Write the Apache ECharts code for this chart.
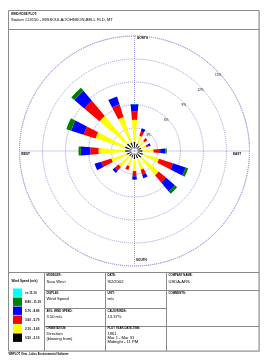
<!DOCTYPE html>
<html>
<head>
<meta charset="utf-8">
<title>Wind Rose Plot</title>
<script src="https://cdn.jsdelivr.net/npm/echarts/dist/echarts.min.js"></script>
<style>
  html, body { margin: 0; padding: 0; background: #fff; }
  #chart-rose { width: 266px; height: 364px; }
</style>
</head>
<body>
<div id="chart-rose"></div>
<script>
// Data (percent frequency per direction, by wind speed class)
const directions = ['N', 'NNE', 'NE', 'ENE', 'E', 'ESE', 'SE', 'SSE', 'S', 'SSW', 'SW', 'WSW', 'W', 'WNW', 'NW', 'NNW'];
const speedClasses = ['0.50 - 2.10', '2.10 - 3.60', '3.60 - 5.70', '5.70 - 8.80', '8.80 - 11.10', '>= 11.10'];
const speed05to21 = [0.80, 0.65, 0.52, 0.50, 0.65, 0.78, 0.78, 0.65, 0.65, 0.52, 0.52, 0.65, 0.82, 0.91, 0.91, 0.78];
const speed21to36 = [2.87, 1.05, 0.85, 0.75, 1.44, 2.19, 2.97, 1.54, 1.57, 1.18, 1.83, 2.13, 3.48, 4.04, 4.69, 3.48];
const speed36to57 = [1.08, 0.58, 0.46, 0.31, 0.87, 1.91, 1.23, 0.68, 0.69, 0.52, 0.65, 1.39, 1.08, 1.63, 2.60, 1.74];
const speed57to88 = [0.99, 0.43, 0.00, 0.26, 0.69, 1.73, 1.54, 0.48, 0.44, 0.00, 0.36, 0.91, 1.23, 1.71, 1.70, 1.08];
const speed88to111 = [0.00, 0.00, 0.00, 0.00, 0.17, 0.35, 0.38, 0.00, 0.00, 0.00, 0.00, 0.00, 0.30, 0.65, 0.52, 0.00];
const speedOver111 = [0, 0, 0, 0, 0, 0, 0, 0, 0, 0, 0, 0, 0, 0, 0, 0];
const ringMax = 15;
const ringStep = 3;

const classData = [speed05to21, speed21to36, speed36to57, speed57to88, speed88to111, speedOver111];
const classColors = ['#000000', '#ffff00', '#ff0000', '#0000ff', '#008000', '#00ffff'];

const FONT = '"Liberation Sans", Arial, sans-serif';
const GRID = '#9b9bdc';
const CENTER = [134.5, 151];

function txt(x, y, text, size, bold) {
    return {
        type: 'text', x: x, y: y, silent: true,
        style: {
            text: text, fontSize: size, fontFamily: FONT,
            fontWeight: bold ? 'bold' : 'normal',
            fill: '#000', verticalAlign: 'middle'
        }
    };
}
function ln(x1, y1, x2, y2, color) {
    return {
        type: 'line', silent: true,
        shape: {x1: x1, y1: y1, x2: x2, y2: y2},
        style: {stroke: color || '#8a8a8a', lineWidth: 1}
    };
}

const rose = echarts.init(document.getElementById('chart-rose'));

const series = speedClasses.map(function(name, i) {
    return {
        name: name,
        type: 'bar',
        coordinateSystem: 'polar',
        polarIndex: 0,
        stack: 'speed',
        barWidth: '42%',
        itemStyle: {color: classColors[i]},
        data: classData[i]
    };
});

const graphics = [
    // frame
    {type: 'rect', silent: true, shape: {x: 8.5, y: 10.5, width: 250.5, height: 340.5},
     style: {fill: 'none', stroke: '#8a8a8a', lineWidth: 1}},
    ln(259.5, 11, 259.5, 351.5, '#b0b0b0'),
    ln(9, 351.5, 259.5, 351.5, '#b0b0b0'),
    ln(8.5, 29.5, 259, 29.5),
    txt(11, 14.5, 'WIND ROSE PLOT:', 2.9, true),
    txt(11, 19.5, 'Station #24150 - MISSOULA/JOHNSON-BELL FLD, MT', 4.1),

    // compass labels
    txt(137, 38.5, 'NORTH', 3.1, true),
    txt(21, 154.5, 'WEST', 3.1, true),
    txt(233, 154.5, 'EAST', 3.1, true),
    txt(136, 260.5, 'SOUTH', 3.1, true),

    // table
    ln(8.5, 272.5, 259, 272.5),
    ln(44.5, 272.5, 44.5, 351),
    ln(105.5, 272.5, 105.5, 351),
    ln(166.5, 272.5, 166.5, 351),
    ln(44.5, 290.5, 259, 290.5),
    ln(44.5, 308.5, 166.5, 308.5),
    ln(44.5, 326.5, 259, 326.5),

    txt(11.5, 281.5, 'Wind Speed (m/s)', 3.1, true),

    txt(46.5, 275.5, 'MODELER:', 2.8, true),
    txt(46.5, 282, 'Sara West', 4.1),
    txt(107.5, 275.5, 'DATE:', 2.8, true),
    txt(107.5, 282, '9/2/2002', 4.1),
    txt(168.5, 275.5, 'COMPANY NAME:', 2.8, true),
    txt(168.5, 282, 'USDA-ARS', 4.1),

    txt(46.5, 293, 'DISPLAY:', 2.8, true),
    txt(46.5, 299, 'Wind Speed', 4.1),
    txt(107.5, 293, 'UNIT:', 2.8, true),
    txt(107.5, 299, 'm/s', 4.1),
    txt(168.5, 293, 'COMMENTS:', 2.8, true),

    txt(46.5, 311, 'AVG. WIND SPEED:', 2.8, true),
    txt(46.5, 317, '3.50 m/s', 4.1),
    txt(107.5, 311, 'CALM WINDS:', 2.8, true),
    txt(107.5, 317, '13.37%', 4.1),

    txt(46.5, 328.5, 'ORIENTATION:', 2.8, true),
    txt(46.5, 333.5, 'Direction', 4.1),
    txt(46.5, 338.5, '(blowing from)', 4.1),
    txt(107.5, 328.5, 'PLOT YEAR-DATE-TIME:', 2.8, true),
    txt(107.5, 333.5, '1961', 4.1),
    txt(107.5, 337.8, 'Mar 1 - Mar 31', 4.1),
    txt(107.5, 342.1, 'Midnight - 11 PM', 4.1),

    txt(8.5, 354, 'WRPLOT View - Lakes Environmental Software', 2.7, true)
];

const option = {
    animation: false,
    backgroundColor: '#fff',
    polar: [
        {center: CENTER, radius: [3, 118]},
        {center: CENTER, radius: 115},
        {center: CENTER, radius: 115}
    ],
    angleAxis: [{
        polarIndex: 0,
        type: 'category',
        data: directions,
        startAngle: 90 + 360 / directions.length / 2,
        clockwise: true,
        show: false
    }, {
        polarIndex: 1,
        type: 'value',
        min: 0,
        max: 360,
        interval: 90,
        startAngle: 90,
        clockwise: true,
        axisLine: {show: true, lineStyle: {color: GRID, type: 'dotted', width: 1}},
        axisTick: {show: false},
        axisLabel: {show: false},
        splitLine: {show: true, lineStyle: {color: GRID, type: 'dotted', width: 1}}
    }, {
        polarIndex: 2,
        type: 'value',
        min: 0,
        max: 360,
        startAngle: 40,
        show: false
    }],
    radiusAxis: [{
        polarIndex: 0,
        type: 'value',
        min: 0,
        max: ringMax,
        show: false
    }, {
        polarIndex: 1,
        type: 'value',
        min: 0,
        max: ringMax,
        interval: ringStep,
        axisLine: {show: false},
        axisTick: {show: false},
        axisLabel: {show: false},
        splitLine: {show: true, lineStyle: {color: GRID, type: 'dotted', width: 1}}
    }, {
        polarIndex: 2,
        type: 'value',
        min: 0,
        max: ringMax,
        interval: ringStep,
        axisLine: {show: false},
        axisTick: {show: false},
        splitLine: {show: false},
        axisLabel: {
            show: true,
            showMinLabel: false,
            margin: 2,
            fontSize: 3.1,
            fontFamily: FONT,
            color: '#000',
            formatter: '{value}%'
        }
    }],
    legend: {
        orient: 'vertical',
        left: 13,
        top: 288.5,
        padding: 0,
        icon: 'rect',
        itemWidth: 9,
        itemHeight: 8.4,
        itemGap: 0.6,
        selectedMode: false,
        data: speedClasses.slice().reverse(),
        textStyle: {fontSize: 3, fontFamily: FONT, fontWeight: 'bold', color: '#000', padding: [0, 0, 0, -2]}
    },
    graphic: graphics,
    series: series
};
rose.setOption(option);
</script>
</body>
</html>
